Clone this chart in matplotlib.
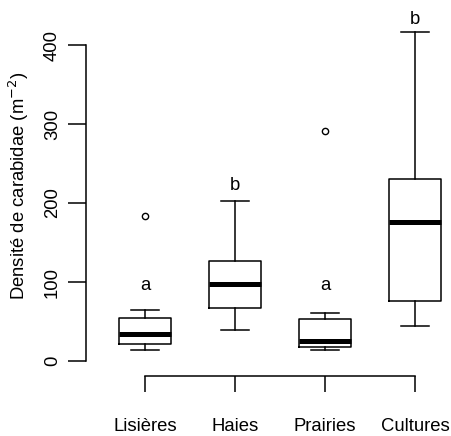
import matplotlib
matplotlib.use("Agg")
import matplotlib.pyplot as plt

plt.rcParams["font.family"] = ["Liberation Sans", "DejaVu Sans"]

# habitat categories and box summaries (density per m2)
habitats = ["Lisières", "Haies", "Prairies", "Cultures"]
whisker_low = [14, 39, 14, 44]
q1 = [22, 67, 18, 76]
median = [34, 98, 25, 176]
q3 = [55, 126, 53, 231]
whisker_high = [64, 203, 61, 416]
outliers = [[183], [], [291], []]

# significance letters and their baselines
letters = ["a", "b", "a", "b"]
letter_y = [90, 216, 90, 427]

stats = []
for i, name in enumerate(habitats):
    stats.append({
        "label": name,
        "whislo": whisker_low[i],
        "q1": q1[i],
        "med": median[i],
        "q3": q3[i],
        "whishi": whisker_high[i],
        "fliers": outliers[i],
    })

fig = plt.figure(figsize=(4.51, 4.36), dpi=100)
ax = fig.add_axes([86 / 451, (436 - 375.7) / 436, 365 / 451, 375.7 / 436])

lw = 1.1
positions = [1, 2, 3, 4]
ax.bxp(
    stats,
    positions=positions,
    widths=0.58,
    capwidths=0.31,
    showfliers=True,
    boxprops=dict(color="black", linewidth=lw),
    whiskerprops=dict(color="black", linewidth=lw, linestyle="-"),
    capprops=dict(color="black", linewidth=lw),
    medianprops=dict(color="black", linewidth=3.6, solid_capstyle="butt"),
    flierprops=dict(marker="o", markersize=4.5, markerfacecolor="none",
                    markeredgecolor="black", markeredgewidth=1.0),
)

for x, txt, y in zip(positions, letters, letter_y):
    ax.text(x, y, txt, ha="center", va="baseline", fontsize=13.3)

ax.set_xlim(0.344, 4.4)
ax.set_ylim(-18.6, 457)

ax.spines["top"].set_visible(False)
ax.spines["right"].set_visible(False)
ax.spines["left"].set_bounds(0, 400)
ax.spines["bottom"].set_bounds(1, 4)
for s in ("left", "bottom"):
    ax.spines[s].set_linewidth(lw)

ax.set_yticks([0, 100, 200, 300, 400])
ax.set_yticklabels(["0", "100", "200", "300", "400"], rotation=90, va="center")
ax.set_xticks(positions)
ax.set_xticklabels(habitats)
ax.tick_params(axis="y", length=13, width=lw, pad=5, labelsize=13.3)
ax.tick_params(axis="x", length=11.5, width=lw, pad=19, labelsize=13.3)

ax.set_ylabel("Densité de carabidae (m$^{-2}$)", fontsize=13.3)
ax.yaxis.set_label_coords(-(86 - 31) / 365, (375.7 - 186) / 375.7)

fig.savefig("out.png", dpi=100)
